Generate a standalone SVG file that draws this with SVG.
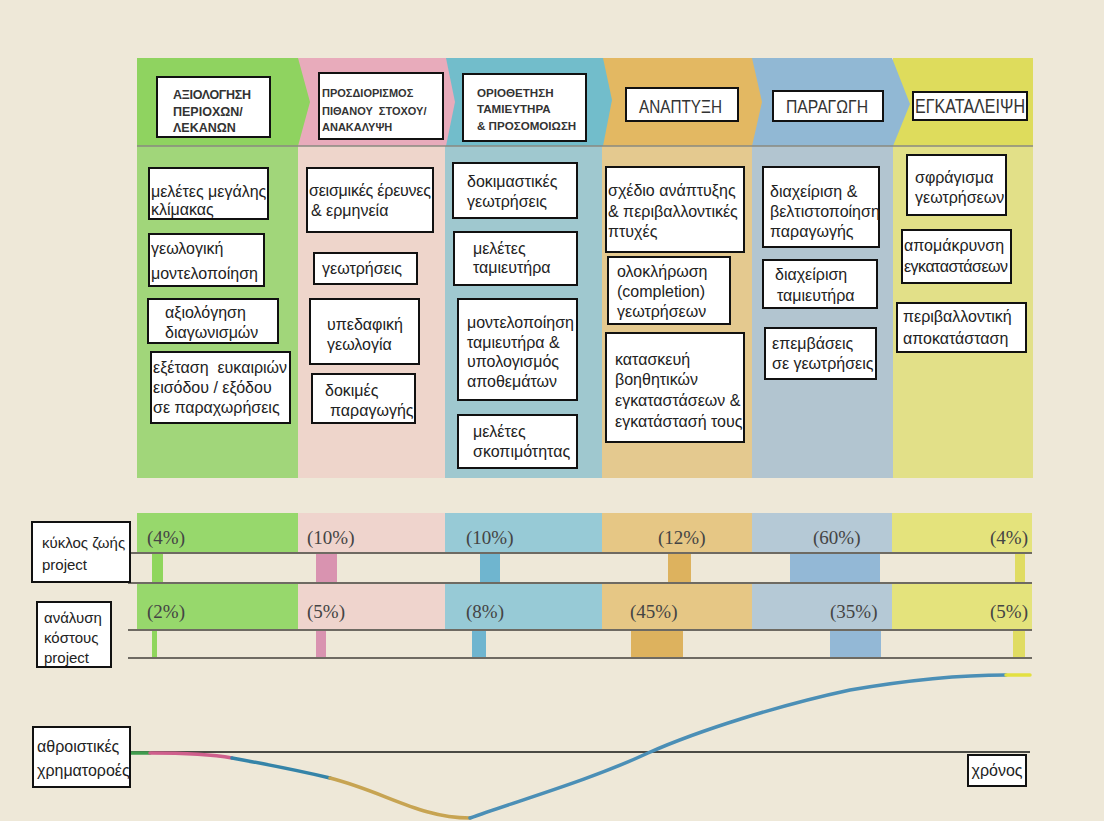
<svg xmlns="http://www.w3.org/2000/svg" width="1104" height="821" viewBox="0 0 1104 821">
<style>
.bx{fill:#ffffff;stroke:#111;stroke-width:2}
.t{font-family:"Liberation Sans",Arial,sans-serif;font-size:16px;fill:#222}
.h{font-family:"Liberation Sans",Arial,sans-serif;font-size:12.5px;font-weight:bold;fill:#333}
.h2{font-family:"Liberation Sans",Arial,sans-serif;font-size:11px;font-weight:bold;fill:#333}
.h3{font-family:"Liberation Sans",Arial,sans-serif;font-size:11.6px;font-weight:bold;fill:#333}
.hb{font-family:"Liberation Sans",Arial,sans-serif;font-size:18px;fill:#333}
.hb2{font-family:"Liberation Sans",Arial,sans-serif;font-size:20px;fill:#333}
.lb{font-family:"Liberation Sans",Arial,sans-serif;font-size:15px;fill:#222}
.p{font-family:"Liberation Serif","Times New Roman",serif;font-size:19px;fill:#444}
.ln{stroke:#6e6a62;stroke-width:2;fill:none}
.cv{fill:none;stroke-width:3.5;stroke-linecap:round}
</style>
<defs>
<clipPath id="c2"><rect x="319" y="73" width="124" height="66"/></clipPath>
</defs>
<rect width="1104" height="821" fill="#eee8d8"/>

<g id="columns">
<rect x="137" y="146" width="161" height="332" fill="#a1d67a"/>
<rect x="298" y="146" width="147" height="332" fill="#eed5cb"/>
<rect x="445" y="146" width="157" height="332" fill="#9fc8cf"/>
<rect x="602" y="146" width="150" height="332" fill="#e4c98f"/>
<rect x="752" y="146" width="141" height="332" fill="#b2c5d0"/>
<rect x="893" y="146" width="140" height="332" fill="#e2e088"/>
</g>

<g id="header-band">
<polygon points="893,58 1033,58 1033,146 893,146" fill="#dedc5c"/>
<polygon points="752,58 892,58 910,104 893,146 752,146" fill="#91b8d4"/>
<polygon points="602,58 752,58 762,102 752,146 602,146" fill="#e3b862"/>
<polygon points="445,58 603,58 612,100 603,146 445,146" fill="#72bdcb"/>
<polygon points="298,58 446,58 455,102 446,146 298,146" fill="#e8abbb"/>
<polygon points="137,58 298,58 310,102 298,146 137,146" fill="#8fd360"/>
<line x1="137" y1="146" x2="1033" y2="146" stroke="#8a8a80" stroke-width="1.5"/>
</g>

<g id="phase-1">
<rect class="bx" x="157" y="77" width="113" height="60"/>
<text class="h" x="173" y="99" textLength="78">ΑΞΙΟΛΟΓΗΣΗ</text>
<text class="h" x="173" y="116">ΠΕΡΙΟΧΩΝ/</text>
<text class="h" x="173" y="132">ΛΕΚΑΝΩΝ</text>
</g>
<g id="phase-2">
<rect class="bx" x="319" y="73" width="124" height="66"/>
<g clip-path="url(#c2)">
<text class="h2" x="322" y="97">ΠΡΟΣΔΙΟΡΙΣΜΟΣ</text>
<text class="h2" x="322" y="115" xml:space="preserve">ΠΙΘΑΝΟΥ  ΣΤΟΧΟΥ/</text>
<text class="h2" x="322" y="131">ΑΝΑΚΑΛΥΨΗ</text>
</g>
</g>
<g id="phase-3">
<rect class="bx" x="463" y="74" width="123" height="67"/>
<text class="h3" x="477" y="97">ΟΡΙΟΘΕΤΗΣΗ</text>
<text class="h3" x="477" y="113">ΤΑΜΙΕΥΤΗΡΑ</text>
<text class="h3" x="477" y="130">&amp; ΠΡΟΣΟΜΟΙΩΣΗ</text>
</g>
<g id="phase-4">
<rect class="bx" x="626" y="88" width="112" height="33"/>
<text class="hb" x="639" y="113" textLength="83" lengthAdjust="spacingAndGlyphs">ΑΝΑΠΤΥΞΗ</text>
</g>
<g id="phase-5">
<rect class="bx" x="773" y="91" width="110" height="30"/>
<text class="hb" x="786" y="113" textLength="82" lengthAdjust="spacingAndGlyphs">ΠΑΡΑΓΩΓΗ</text>
</g>
<g id="phase-6">
<rect class="bx" x="913" y="92" width="114" height="28"/>
<text class="hb2" x="915" y="113" textLength="110" lengthAdjust="spacingAndGlyphs">ΕΓΚΑΤΑΛΕΙΨΗ</text>
</g>

<g id="g1">
<rect class="bx" x="149" y="168" width="119" height="51"/>
<text class="t" x="151" y="197">μελέτες μεγάλης</text>
<text class="t" x="151" y="215">κλίμακας</text>
</g>
<g id="g2">
<rect class="bx" x="149" y="234" width="115" height="52"/>
<text class="t" x="151" y="254">γεωλογική</text>
<text class="t" x="151" y="279">μοντελοποίηση</text>
</g>
<g id="g3">
<rect class="bx" x="148" y="299" width="130" height="44"/>
<text class="t" x="165" y="318">αξιολόγηση</text>
<text class="t" x="165" y="338">διαγωνισμών</text>
</g>
<g id="g4">
<rect class="bx" x="151" y="352" width="139" height="71"/>
<text class="t" x="153" y="373" xml:space="preserve">εξέταση  ευκαιριών</text>
<text class="t" x="153" y="393">εισόδου / εξόδου</text>
<text class="t" x="153" y="413">σε παραχωρήσεις</text>
</g>

<g id="p1">
<rect class="bx" x="307" y="168" width="126" height="64"/>
<text class="t" x="309" y="196" textLength="122">σεισμικές έρευνες</text>
<text class="t" x="311" y="216">&amp; ερμηνεία</text>
</g>
<g id="p2">
<rect class="bx" x="314" y="253" width="103" height="31"/>
<text class="t" x="322" y="274">γεωτρήσεις</text>
</g>
<g id="p3">
<rect class="bx" x="310" y="299" width="109" height="65"/>
<text class="t" x="327" y="330">υπεδαφική</text>
<text class="t" x="327" y="350">γεωλογία</text>
</g>
<g id="p4">
<rect class="bx" x="312" y="374" width="103" height="49"/>
<text class="t" x="325" y="396">δοκιμές</text>
<text class="t" x="330" y="416">παραγωγής</text>
</g>

<g id="t1">
<rect class="bx" x="453" y="163" width="124" height="55"/>
<text class="t" x="467" y="187">δοκιμαστικές</text>
<text class="t" x="467" y="207">γεωτρήσεις</text>
</g>
<g id="t2">
<rect class="bx" x="454" y="232" width="123" height="53"/>
<text class="t" x="473" y="254">μελέτες</text>
<text class="t" x="473" y="273">ταμιευτήρα</text>
</g>
<g id="t3">
<rect class="bx" x="458" y="299" width="119" height="101"/>
<text class="t" x="467" y="328">μοντελοποίηση</text>
<text class="t" x="467" y="348">ταμιευτήρα &amp;</text>
<text class="t" x="467" y="367">υπολογισμός</text>
<text class="t" x="467" y="387">αποθεμάτων</text>
</g>
<g id="t4">
<rect class="bx" x="458" y="415" width="119" height="53"/>
<text class="t" x="473" y="437">μελέτες</text>
<text class="t" x="473" y="457">σκοπιμότητας</text>
</g>

<g id="d1">
<rect class="bx" x="606" y="167" width="138" height="85"/>
<text class="t" x="608" y="196">σχέδιο ανάπτυξης</text>
<text class="t" x="608" y="217">&amp; περιβαλλοντικές</text>
<text class="t" x="608" y="237">πτυχές</text>
</g>
<g id="d2">
<rect class="bx" x="608" y="257" width="122" height="67"/>
<text class="t" x="617" y="277">ολοκλήρωση</text>
<text class="t" x="617" y="297">(completion)</text>
<text class="t" x="617" y="317">γεωτρήσεων</text>
</g>
<g id="d3">
<rect class="bx" x="606" y="333" width="138" height="109"/>
<text class="t" x="615" y="365">κατασκευή</text>
<text class="t" x="615" y="385">βοηθητικών</text>
<text class="t" x="615" y="406">εγκαταστάσεων &amp;</text>
<text class="t" x="615" y="427">εγκατάστασή τους</text>
</g>

<g id="b1">
<rect class="bx" x="763" y="167" width="116" height="80"/>
<text class="t" x="770" y="197">διαχείριση &amp;</text>
<text class="t" x="770" y="217">βελτιστοποίηση</text>
<text class="t" x="770" y="237">παραγωγής</text>
</g>
<g id="b2">
<rect class="bx" x="763" y="260" width="114" height="48"/>
<text class="t" x="775" y="280">διαχείριση</text>
<text class="t" x="777" y="301">ταμιευτήρα</text>
</g>
<g id="b3">
<rect class="bx" x="765" y="328" width="111" height="51"/>
<text class="t" x="772" y="349">επεμβάσεις</text>
<text class="t" x="772" y="369">σε γεωτρήσεις</text>
</g>

<g id="y1">
<rect class="bx" x="907" y="155" width="99" height="60"/>
<text class="t" x="915" y="183">σφράγισμα</text>
<text class="t" x="915" y="203">γεωτρήσεων</text>
</g>
<g id="y2">
<rect class="bx" x="902" y="230" width="109" height="53"/>
<text class="t" x="904" y="251">απομάκρυνση</text>
<text class="t" x="904" y="272" textLength="104">εγκαταστάσεων</text>
</g>
<g id="y3">
<rect class="bx" x="897" y="303" width="129" height="49"/>
<text class="t" x="903" y="322">περιβαλλοντική</text>
<text class="t" x="903" y="344">αποκατάσταση</text>
</g>

<g id="row-lifecycle">
<rect x="137" y="513" width="161" height="40" fill="#97d86c"/>
<rect x="298" y="513" width="147" height="40" fill="#efd4cd"/>
<rect x="445" y="513" width="157" height="40" fill="#97cad6"/>
<rect x="602" y="513" width="150" height="40" fill="#e6c785"/>
<rect x="752" y="513" width="140" height="40" fill="#b5c9d6"/>
<rect x="892" y="513" width="140" height="40" fill="#e4e37c"/>
<rect x="152" y="553" width="11" height="30" fill="#8fd65c"/>
<rect x="316" y="553" width="21" height="30" fill="#d993b0"/>
<rect x="480" y="553" width="20" height="30" fill="#6fb5cf"/>
<rect x="668" y="553" width="23" height="30" fill="#ddb25e"/>
<rect x="790" y="553" width="90" height="30" fill="#93b8d6"/>
<rect x="1015" y="553" width="10" height="30" fill="#e0dc62"/>
<text class="p" x="147" y="544">(4%)</text>
<text class="p" x="307" y="544">(10%)</text>
<text class="p" x="466" y="544">(10%)</text>
<text class="p" x="658" y="544">(12%)</text>
<text class="p" x="813" y="544">(60%)</text>
<text class="p" x="990" y="544">(4%)</text>
</g>
<g id="row-cost">
<rect x="137" y="583" width="161" height="47" fill="#97d86c"/>
<rect x="298" y="583" width="147" height="47" fill="#efd4cd"/>
<rect x="445" y="583" width="157" height="47" fill="#97cad6"/>
<rect x="602" y="583" width="150" height="47" fill="#e6c785"/>
<rect x="752" y="583" width="140" height="47" fill="#b5c9d6"/>
<rect x="892" y="583" width="140" height="47" fill="#e4e37c"/>
<rect x="152" y="630" width="5" height="28" fill="#8fd65c"/>
<rect x="316" y="630" width="10" height="28" fill="#d993b0"/>
<rect x="472" y="630" width="14" height="28" fill="#6fb5cf"/>
<rect x="631" y="630" width="52" height="28" fill="#ddb25e"/>
<rect x="830" y="630" width="51" height="28" fill="#93b8d6"/>
<rect x="1013" y="630" width="12" height="28" fill="#e0dc62"/>
<text class="p" x="147" y="618">(2%)</text>
<text class="p" x="307" y="618">(5%)</text>
<text class="p" x="466" y="618">(8%)</text>
<text class="p" x="630" y="618">(45%)</text>
<text class="p" x="830" y="618">(35%)</text>
<text class="p" x="990" y="618">(5%)</text>
</g>
<g id="row-lines">
<line class="ln" x1="128" y1="553" x2="1032" y2="553"/>
<line class="ln" x1="128" y1="583" x2="1032" y2="583"/>
<line class="ln" x1="128" y1="630" x2="1032" y2="630"/>
<line class="ln" x1="128" y1="658" x2="1032" y2="658"/>
</g>

<g id="label-lifecycle">
<rect class="bx" x="32" y="522" width="98" height="60"/>
<text class="lb" x="42" y="548">κύκλος ζωής</text>
<text class="lb" x="42" y="570">project</text>
</g>
<g id="label-cost">
<rect class="bx" x="37" y="602" width="74" height="65"/>
<text class="lb" x="44" y="623">ανάλυση</text>
<text class="lb" x="44" y="643">κόστους</text>
<text class="lb" x="44" y="663">project</text>
</g>

<g id="connectors">
<line x1="131" y1="752" x2="1030" y2="752" stroke="#4a4a44" stroke-width="2"/>
<path class="cv" stroke="#3f9b4d" d="M131,753 L150,753"/>
<path class="cv" stroke="#cf5f8c" d="M150,753 C180,753 210,754 232,758"/>
<path class="cv" stroke="#3584a8" d="M232,758 C265,764 300,771 330,778"/>
<path class="cv" stroke="#c7a452" d="M330,778 C385,792 420,818 470,818"/>
<path class="cv" stroke="#4b8fb6" d="M470,818 C520,800 590,780 648,753 C700,730 780,705 850,690 C920,678 970,675 1006,675"/>
<path class="cv" stroke="#e3e040" d="M1006,675 L1030,675"/>
</g>

<g id="label-cashflow">
<rect class="bx" x="33" y="727" width="97" height="60"/>
<text class="t" x="37" y="752">αθροιστικές</text>
<text class="t" x="37" y="776">χρηματοροές</text>
</g>
<g id="label-time">
<rect class="bx" x="968" y="755" width="58" height="31"/>
<text class="t" x="997" y="776" text-anchor="middle">χρόνος</text>
</g>
</svg>
